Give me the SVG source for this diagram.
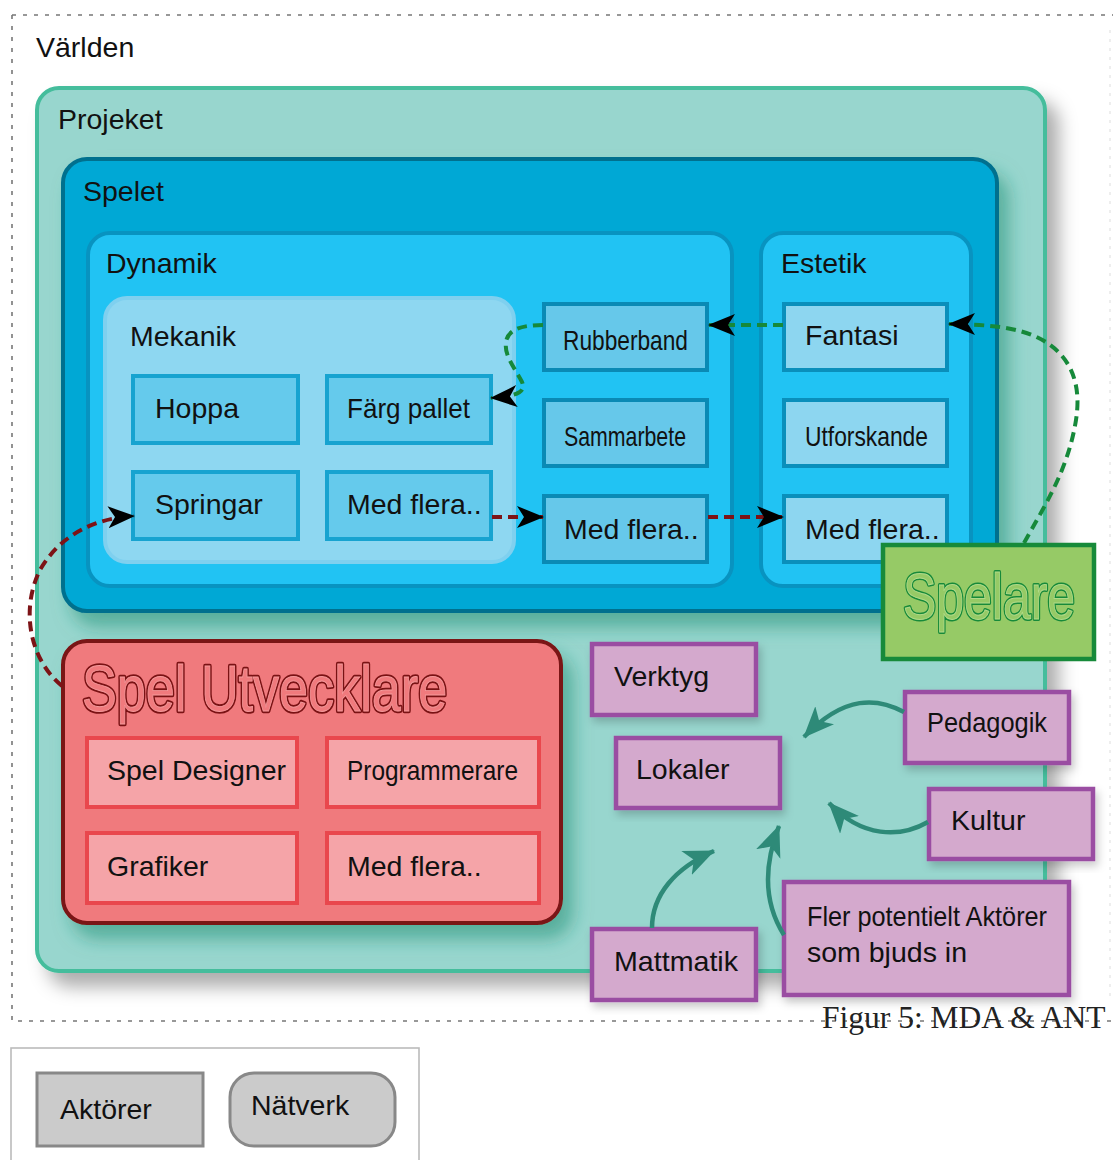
<svg xmlns="http://www.w3.org/2000/svg" width="1113" height="1160" viewBox="0 0 1113 1160">
  <defs>
    <style>
      .lbl { font-family: "Liberation Sans", Arial, sans-serif; font-size: 28.5px; fill: #111; }
      .cap { font-family: "Liberation Serif", "Times New Roman", serif; font-size: 31.5px; fill: #222; }
      .big { font-family: "Liberation Sans", Arial, sans-serif; font-size: 64px; }
      .mbox { fill: #65caec; stroke: #17a3d0; stroke-width: 4; }
      .dbox { fill: #66c8ea; stroke: #0a8ab5; stroke-width: 4; }
      .ebox { fill: #8dd6f0; stroke: #0a8fbb; stroke-width: 4; }
      .rbox { fill: #f5a4a8; stroke: #e9474d; stroke-width: 4; }
      .pbox { fill: #d4a9cd; stroke: #9a4da2; stroke-width: 4.5; }
      .dash-red { fill: none; stroke: #7d1316; stroke-width: 4; stroke-dasharray: 10 6; }
      .dash-green { fill: none; stroke: #16893a; stroke-width: 4; stroke-dasharray: 10 6; }
      .teal { fill: none; stroke: #2e8a78; stroke-width: 4.5; }
    </style>
    <marker id="ah" markerUnits="userSpaceOnUse" markerWidth="28" markerHeight="24" refX="26" refY="12" orient="auto">
      <path d="M0,1 L27,12 L0,23 L7,12 z" fill="#000"/>
    </marker>
    <marker id="ahTeal" markerUnits="userSpaceOnUse" markerWidth="32" markerHeight="28" refX="30" refY="14" orient="auto">
      <path d="M0,1 L31,14 L0,27 L8,14 z" fill="#2e8a78"/>
    </marker>
    <filter id="shGray" x="-10%" y="-10%" width="125%" height="125%">
      <feDropShadow dx="12" dy="14" stdDeviation="9" flood-color="#000" flood-opacity="0.32"/>
    </filter>
    <filter id="shTeal" x="-10%" y="-10%" width="125%" height="130%">
      <feDropShadow dx="10" dy="14" stdDeviation="9" flood-color="#1f8f72" flood-opacity="0.55"/>
    </filter>
    <filter id="shSoft" x="-10%" y="-10%" width="125%" height="130%">
      <feDropShadow dx="3" dy="5" stdDeviation="4" flood-color="#000" flood-opacity="0.2"/>
    </filter>
  </defs>

  <!-- World boundary -->
  <g id="varlden">
    <path d="M12,15 H1113 M12,15 V1021 H1113" fill="none" stroke="#777" stroke-width="1.6" stroke-dasharray="4 7"/>
    <line x1="1110" y1="30" x2="1110" y2="1000" stroke="#ddd" stroke-width="1" stroke-dasharray="3 6"/>
    <text class="lbl" x="36" y="57">Världen</text>
  </g>

  <!-- Project container -->
  <g id="projeket">
    <rect x="37" y="88" width="1008" height="883" rx="22" fill="#98d6ce" stroke="#44bd9c" stroke-width="4" filter="url(#shGray)"/>
    <text class="lbl" x="58" y="129">Projeket</text>
  </g>

  <!-- The game -->
  <g id="spelet">
    <rect x="63" y="159" width="934" height="452" rx="24" fill="#00a8d5" stroke="#046f8e" stroke-width="4" filter="url(#shTeal)"/>
    <text class="lbl" x="83" y="201">Spelet</text>
  </g>

  <g id="dynamik">
    <rect x="88" y="233" width="644" height="353" rx="22" fill="#21c3f3" stroke="#0893c0" stroke-width="4"/>
    <text class="lbl" x="106" y="273">Dynamik</text>
  </g>

  <g id="mekanik">
    <rect x="105" y="298" width="409" height="264" rx="22" fill="#8ed7f1" stroke="#7fd0ef" stroke-width="4"/>
    <text class="lbl" x="130" y="346">Mekanik</text>
  </g>

  <g id="hoppa">
    <rect class="mbox" x="133" y="376" width="165" height="67"/>
    <text class="lbl" x="155" y="418">Hoppa</text>
  </g>
  <g id="farg-pallet">
    <rect class="mbox" x="327" y="376" width="164" height="67"/>
    <text class="lbl" x="347" y="418" textLength="123" lengthAdjust="spacingAndGlyphs">Färg pallet</text>
  </g>
  <g id="springar">
    <rect class="mbox" x="133" y="472" width="165" height="67"/>
    <text class="lbl" x="155" y="514">Springar</text>
  </g>
  <g id="mek-med-flera">
    <rect class="mbox" x="327" y="472" width="164" height="67"/>
    <text class="lbl" x="347" y="514">Med flera..</text>
  </g>

  <g id="rubberband">
    <rect class="dbox" x="544" y="304" width="163" height="66"/>
    <text class="lbl" x="563" y="350" textLength="125" lengthAdjust="spacingAndGlyphs">Rubberband</text>
  </g>
  <g id="sammarbete">
    <rect class="dbox" x="544" y="400" width="163" height="66"/>
    <text class="lbl" x="564" y="446" textLength="122" lengthAdjust="spacingAndGlyphs">Sammarbete</text>
  </g>
  <g id="dyn-med-flera">
    <rect class="dbox" x="544" y="496" width="163" height="66"/>
    <text class="lbl" x="564" y="539">Med flera..</text>
  </g>

  <g id="estetik">
    <rect x="761" y="233" width="210" height="353" rx="22" fill="#21c3f3" stroke="#0893c0" stroke-width="4"/>
    <text class="lbl" x="781" y="273">Estetik</text>
  </g>
  <g id="fantasi">
    <rect class="ebox" x="784" y="304" width="163" height="66"/>
    <text class="lbl" x="805" y="345">Fantasi</text>
  </g>
  <g id="utforskande">
    <rect class="ebox" x="784" y="400" width="163" height="66"/>
    <text class="lbl" x="805" y="446" textLength="123" lengthAdjust="spacingAndGlyphs">Utforskande</text>
  </g>
  <g id="est-med-flera">
    <rect class="ebox" x="784" y="496" width="163" height="66"/>
    <text class="lbl" x="805" y="539">Med flera..</text>
  </g>

  <!-- Game developers -->
  <g id="spel-utvecklare">
    <rect x="63" y="641" width="498" height="282" rx="24" fill="#f07a7d" stroke="#7a1214" stroke-width="4" filter="url(#shTeal)"/>
    <g transform="translate(82,711) scale(0.815,1)">
      <text class="big" x="0" y="0" fill="#f07a7d" stroke="#7a1214" stroke-width="4.5" stroke-linejoin="round">Spel Utvecklare</text>
      <text class="big" x="0" y="0" fill="#f07a7d" stroke="#f59a9c" stroke-width="0.9">Spel Utvecklare</text>
    </g>
  </g>
  <g id="spel-designer">
    <rect class="rbox" x="87" y="738" width="210" height="69"/>
    <text class="lbl" x="107" y="780">Spel Designer</text>
  </g>
  <g id="programmerare">
    <rect class="rbox" x="327" y="738" width="212" height="69"/>
    <text class="lbl" x="347" y="780" textLength="171" lengthAdjust="spacingAndGlyphs">Programmerare</text>
  </g>
  <g id="grafiker">
    <rect class="rbox" x="87" y="833" width="210" height="70"/>
    <text class="lbl" x="107" y="876">Grafiker</text>
  </g>
  <g id="utv-med-flera">
    <rect class="rbox" x="327" y="833" width="212" height="70"/>
    <text class="lbl" x="347" y="876">Med flera..</text>
  </g>

  <!-- Other actors -->
  <g id="verktyg">
    <rect class="pbox" x="592" y="644" width="164" height="71" filter="url(#shSoft)"/>
    <text class="lbl" x="614" y="686">Verktyg</text>
  </g>
  <g id="lokaler">
    <rect class="pbox" x="616" y="738" width="164" height="70" filter="url(#shSoft)"/>
    <text class="lbl" x="636" y="779">Lokaler</text>
  </g>
  <g id="pedagogik">
    <rect class="pbox" x="905" y="692" width="164" height="71" filter="url(#shSoft)"/>
    <text class="lbl" x="927" y="732" textLength="120" lengthAdjust="spacingAndGlyphs">Pedagogik</text>
  </g>
  <g id="kultur">
    <rect class="pbox" x="929" y="789" width="164" height="70" filter="url(#shSoft)"/>
    <text class="lbl" x="951" y="830">Kultur</text>
  </g>
  <g id="mattmatik">
    <rect class="pbox" x="592" y="929" width="164" height="71" filter="url(#shSoft)"/>
    <text class="lbl" x="614" y="971" textLength="124" lengthAdjust="spacingAndGlyphs">Mattmatik</text>
  </g>
  <g id="fler-aktorer">
    <rect class="pbox" x="784" y="882" width="285" height="113" filter="url(#shSoft)"/>
    <text class="lbl" x="807" y="926" font-size="26" textLength="240" lengthAdjust="spacingAndGlyphs">Fler potentielt Aktörer</text>
    <text class="lbl" x="807" y="962" font-size="26">som bjuds in</text>
  </g>

  <!-- Player -->
  <g id="spelare">
    <rect x="883" y="545" width="211" height="114" fill="#96ca66" stroke="#178a3a" stroke-width="4.5"/>
    <g transform="translate(903,619) scale(0.78,1)">
      <text class="big" x="0" y="0" font-size="62" fill="#96ca66" stroke="#178a3a" stroke-width="4" stroke-linejoin="round">Spelare</text>
      <text class="big" x="0" y="0" font-size="62" fill="#96ca66" stroke="#b0da88" stroke-width="1">Spelare</text>
    </g>
  </g>

  <!-- Connectors -->
  <g id="connectors">
    <path class="dash-red" d="M62,686 C30,660 20,610 40,570 C60,535 95,518 134,516" marker-end="url(#ah)"/>
    <path class="dash-red" d="M492,517 L543,517" marker-end="url(#ah)"/>
    <path class="dash-red" d="M708,517 L783,517" marker-end="url(#ah)"/>
    <path class="dash-green" d="M783,325 L709,325" marker-end="url(#ah)"/>
    <path class="dash-green" d="M543,325 C525,325 508,328 506,342 C504,356 515,368 522,382 C526,392 518,396 491,398" marker-end="url(#ah)"/>
    <path class="dash-green" d="M1024,543 C1045,505 1068,470 1076,420 C1084,370 1060,335 1000,327 C985,325 965,324 949,324" marker-end="url(#ah)"/>

    <path class="teal" d="M904,712 C878,698 845,694 804,737" marker-end="url(#ahTeal)"/>
    <path class="teal" d="M928,822 C900,838 862,838 829,803" marker-end="url(#ahTeal)"/>
    <path class="teal" d="M652,928 C652,895 675,868 714,851" marker-end="url(#ahTeal)"/>
    <path class="teal" d="M784,935 C765,905 762,870 779,826" marker-end="url(#ahTeal)"/>
  </g>

  <text class="cap" x="822" y="1028">Figur 5: MDA &amp; ANT</text>

  <!-- Legend -->
  <g id="legend">
    <rect x="11" y="1048" width="408" height="130" fill="#fff" stroke="#bbb" stroke-width="1.6"/>
    <g id="legend-aktorer">
      <rect x="37" y="1073" width="166" height="73" fill="#cbcbcb" stroke="#888" stroke-width="3"/>
      <text class="lbl" x="60" y="1119">Aktörer</text>
    </g>
    <g id="legend-natverk">
      <rect x="230" y="1073" width="165" height="73" rx="24" fill="#cbcbcb" stroke="#888" stroke-width="3"/>
      <text class="lbl" x="251" y="1115">Nätverk</text>
    </g>
  </g>
</svg>
